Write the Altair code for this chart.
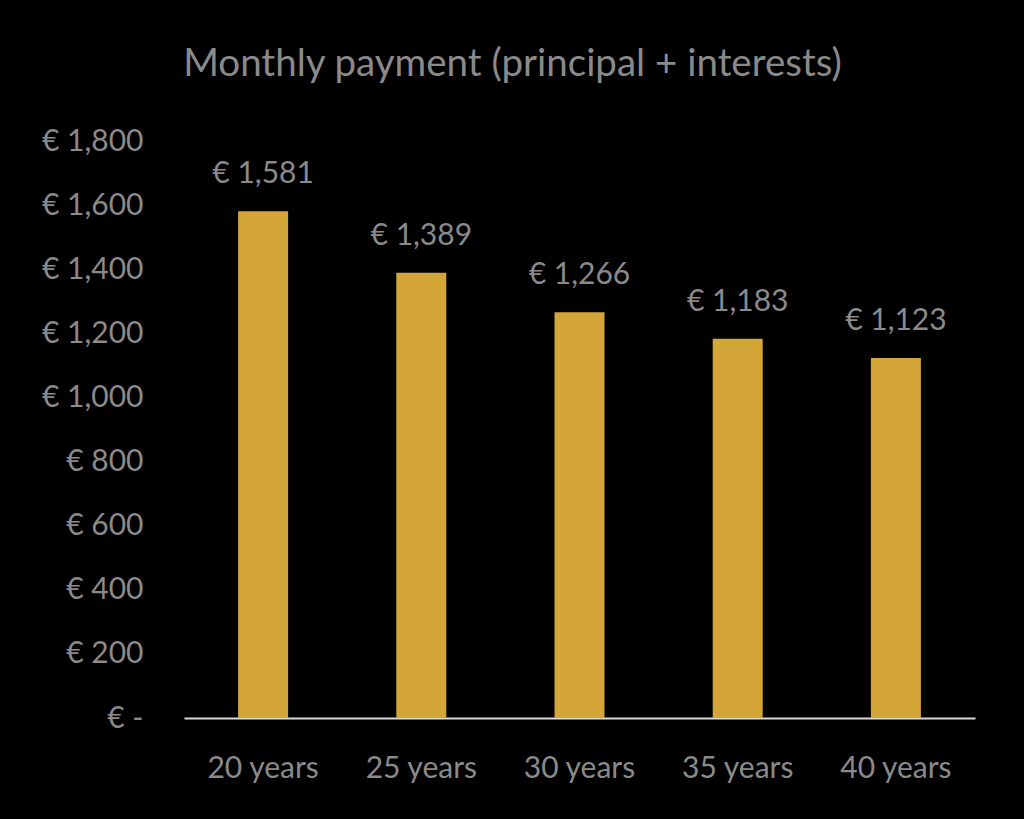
import altair as alt
import pandas as pd

categories = ["20 years", "25 years", "30 years", "35 years", "40 years"]
payments = [1581, 1389, 1266, 1183, 1123]

df = pd.DataFrame({"term": categories, "payment": payments})
df["label"] = ["€ " + f"{v:,}" for v in payments]

FONT = "Lato"
GREY = "#8a8a8a"

base = alt.Chart(df).encode(
    x=alt.X("term:N", sort=categories, title=None,
            scale=alt.Scale(paddingInner=0, paddingOuter=0),
            axis=alt.Axis(labelAngle=0, labelFontSize=30, labelColor=GREY, labelFont=FONT,
                          domainColor="#d9d9d9", domainWidth=2, ticks=False, labelPadding=35)),
    y=alt.Y("payment:Q", title=None,
            scale=alt.Scale(domain=[0, 1800], nice=False),
            axis=alt.Axis(values=list(range(0, 1801, 200)), grid=False, domain=False, ticks=False,
                          labelFontSize=30, labelColor=GREY, labelFont=FONT, labelPadding=41,
                          labelExpr="datum.value == 0 ? '€ -' : '€ ' + format(datum.value, ',')")),
)

bars = base.mark_bar(size=50, color="#D4A537")
labels = base.mark_text(dy=-22, baseline="bottom", fontSize=30, color=GREY, font=FONT).encode(text="label:N")

chart = (bars + labels).properties(
    width=791, height=577,
    title=alt.TitleParams("Monthly payment (principal + interests)", fontSize=38.5, color=GREY,
                          font=FONT, fontWeight="normal", anchor="middle", offset=42, dx=-67),
    background="black",
    autosize=alt.AutoSizeParams(type="none"),
    padding={"left": 184, "top": 141, "right": 49, "bottom": 101},
).configure_view(stroke=None)

chart.save("out.html", embed_options={"renderer": "svg", "actions": False})
